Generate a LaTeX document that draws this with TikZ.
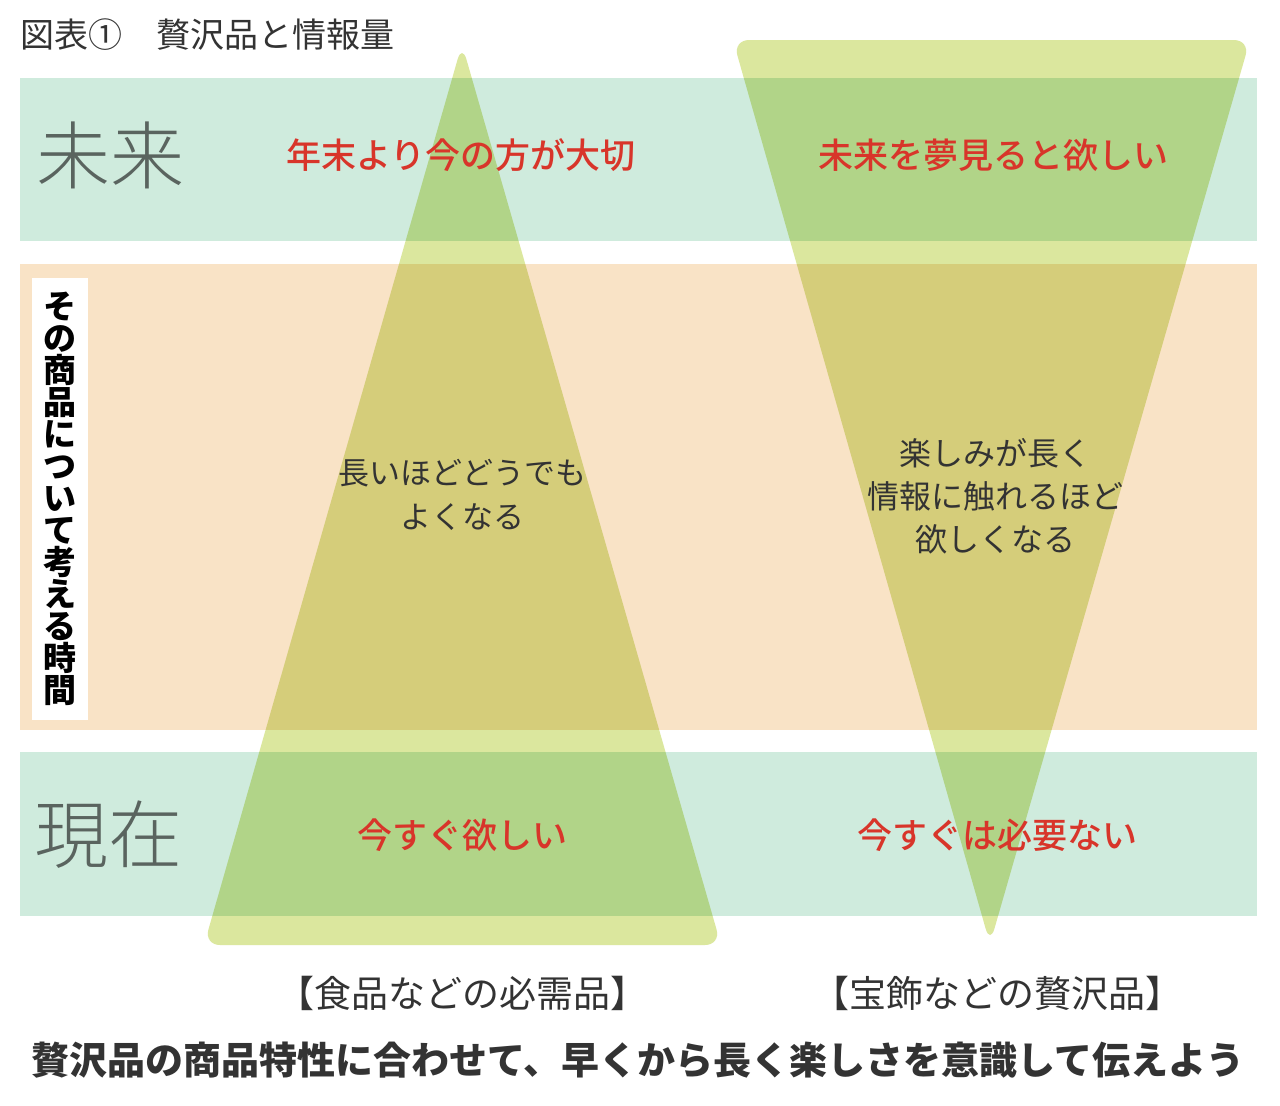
\documentclass[tikz,border=0pt]{standalone}
\usepackage{fontspec}
\setmainfont{Noto Sans CJK JP}
\IfFontExistsTF{Noto Sans CJK JP Light}
	{\newfontfamily\fina{Noto Sans CJK JP Light}}
	{\newfontfamily\fina{Noto Sans CJK JP}}
\IfFontExistsTF{Noto Sans CJK JP Medium}
	{\newfontfamily\media{Noto Sans CJK JP Medium}}
	{\newfontfamily\media{Noto Sans CJK JP}}
\usetikzlibrary{positioning}

\definecolor{menta}{HTML}{CFEBDD}
\definecolor{arena}{HTML}{F9E3C6}
\definecolor{oliva}{HTML}{DBE79E}
\definecolor{rojo}{HTML}{D8352A}
\definecolor{gris}{HTML}{5A645F}
\definecolor{tinta}{HTML}{333333}

\begin{document}
\begin{tikzpicture}[x=0.5pt, y=-0.5pt, inner sep=0pt, text=tinta]
				\tikzstyle{banda}=[fill=menta]
				\tikzstyle{zona}=[fill=arena]
				\tikzstyle{cono}=[fill=oliva, rounded corners=8pt]
				\tikzstyle{eje}=[text=gris, font=\fina\fontsize{37}{40}\selectfont]
				\tikzstyle{rojo}=[text=rojo, font=\media\fontsize{17.5}{21}\selectfont]
				\tikzstyle{nota}=[align=center, font=\fontsize{16}{21.5}\selectfont]
				\tikzstyle{tipo}=[font=\fontsize{18.5}{21}\selectfont]

				\useasboundingbox[fill=white] (0,0) rectangle (1280,1105);

				%FRANJAS
				\fill[banda] (20,78) rectangle (1257,241);
				\fill[zona] (20,264) rectangle (1257,730);
				\fill[banda] (20,752) rectangle (1257,916);

				%TRIANGULOS
				\begin{scope}[blend mode=multiply]
				\fill[cono] (462,945) -- (204,945) -- (462,44) -- (721,945) -- cycle;
				\fill[cono] (990,40) -- (1250,40) -- (990,944) -- (733,40) -- cycle;
				\end{scope}

				%CAJA VERTICAL
				\fill[white] (32,278) rectangle (88,720);
				\node[align=center, font=\bfseries\fontsize{16.5}{16}\selectfont, text=black] (tiempo) at (60,499)
					{そ\\の\\商\\品\\に\\つ\\い\\て\\考\\え\\る\\時\\間};

				%TEXTOS
				\node[anchor=west, font=\fontsize{17}{20}\selectfont] (titulo) at (20,35) {図表①　贅沢品と情報量};
				\node[eje] (futuro) at (110,155) {未来};
				\node[eje] (ahora) at (108,835) {現在};

				\node[rojo] (f1) at (461,155) {年末より今の方が大切};
				\node[rojo] (f2) at (993,155) {未来を夢見ると欲しい};
				\node[rojo] (a1) at (462,835) {今すぐ欲しい};
				\node[rojo] (a2) at (997,835) {今すぐは必要ない};

				\node[nota, font=\fontsize{15.5}{22}\selectfont] (m1) at (462,495) {長いほどどうでも\\よくなる};
				\node[nota] (m2) at (995,496) {楽しみが長く\\情報に触れるほど\\欲しくなる};

				\node[tipo] (c1) at (462,993) {【食品などの必需品】};
				\node[tipo] (c2) at (997,993) {【宝飾などの贅沢品】};

				\node[font=\bfseries\fontsize{19}{22}\selectfont] (lema) at (638,1060)
					{贅沢品の商品特性に合わせて、早くから長く楽しさを意識して伝えよう};
\end{tikzpicture}
\end{document}
